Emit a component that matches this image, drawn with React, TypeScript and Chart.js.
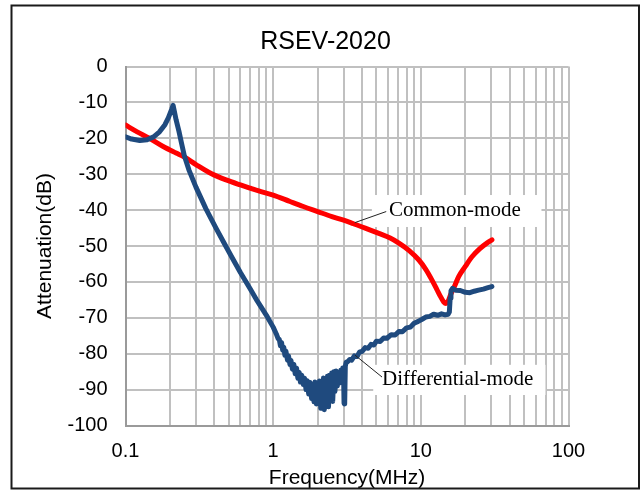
import React, { useEffect, useRef } from 'react';
import { Chart, registerables } from 'chart.js';

Chart.register(...registerables);

const chartTitle = 'RSEV-2020';
const xTitle = 'Frequency(MHz)';
const yTitle = 'Attenuation(dB)';

// Common-mode (red)
const cmFreq = [
  0.1, 0.12, 0.145, 0.18, 0.22, 0.25, 0.3, 0.38, 0.48, 0.6, 0.7, 0.85, 1.0, 1.3, 1.6, 2.0, 2.5, 3.0, 3.5,
  4.2, 5.2, 6.2, 7.1, 8.3, 9.7, 10.8, 11.9, 12.8, 13.6, 14.3, 14.8, 15.3, 15.9, 17, 18, 20, 22.2, 25, 28, 30.3,
];
const cmAtten = [
  -16.3, -18.2, -20, -22.3, -24.1, -25.2, -27.3, -29.8, -31.6, -33.0, -33.9, -35, -35.8, -37.6, -39.0, -40.4, -41.8, -42.8, -43.8,
  -45.0, -46.5, -47.8, -49.2, -51.2, -53.9, -56.5, -59.5, -62.0, -64.1, -65.6, -66.0, -65.4, -63.6, -61, -58.6, -55.7, -53, -50.8, -49.2, -48.3,
];

// Differential-mode (blue)
const dmFreq = [
  0.1, 0.11, 0.125, 0.14, 0.155, 0.17, 0.185, 0.195, 0.205, 0.21, 0.215, 0.22, 0.23, 0.24, 0.25, 0.27, 0.3, 0.35, 0.41, 0.47, 0.53, 0.6, 0.7, 0.78, 0.9, 1.0,
  1.05, 1.08, 1.10, 1.12, 1.14, 1.16, 1.18, 1.20, 1.22, 1.25, 1.27, 1.30, 1.32, 1.35, 1.38, 1.41, 1.44, 1.47, 1.50, 1.53, 1.56, 1.60, 1.63, 1.67, 1.70,
  1.74, 1.78, 1.82, 1.85, 1.89, 1.92, 1.96, 2.00, 2.03, 2.06, 2.10, 2.13, 2.16, 2.19, 2.22, 2.25, 2.29, 2.33, 2.37, 2.41, 2.45, 2.49, 2.53, 2.58,
  2.62, 2.67, 2.72, 2.77, 2.82, 2.87, 2.92, 2.96, 3.00, 3.02, 3.05, 3.08, 3.12, 3.2, 3.3, 3.4, 3.55, 3.7, 3.85, 4.0, 4.2, 4.4, 4.6, 4.8, 5.0, 5.3,
  5.6, 5.9, 6.3, 6.7, 7.1, 7.5, 8.0, 8.5, 9.0, 9.6, 10.2, 10.8, 11.5, 12.2, 13.0, 13.8, 14.6, 15.3, 15.6, 15.8, 16.0, 16.4, 17.2, 18.5, 20, 21.5,
  23, 24.6, 26.5, 28.5, 30.3,
];
const dmAtten = [
  -19.6, -20.2, -20.6, -20.4, -19.6, -18.2, -16.2, -14.3, -12.0, -10.8, -12.8, -14.8, -18.0, -21.5, -24.8, -29.0, -33.6, -39.6, -45.0, -49.5, -53.4, -57.4, -62.0, -65.3, -69.3, -72.6,
  -74.5, -75.8, -76.0, -77.8, -76.9, -79.0, -78.2, -80.4, -79.3, -81.8, -80.6, -83.0, -81.9, -84.3, -83.0, -85.6, -84.0, -86.8, -85.2, -87.9, -86.0, -88.6, -86.8, -90.0, -87.5,
  -91.2, -88.0, -92.5, -88.6, -93.4, -87.9, -94.0, -88.4, -93.0, -87.6, -95.2, -88.8, -94.0, -86.8, -95.6, -87.5, -93.6, -86.3, -94.8, -86.0, -92.5, -85.4, -93.3, -85.0,
  -90.5, -84.8, -89.0, -85.4, -88.2, -84.6, -87.0, -84.0, -86.5, -93.8, -94.0, -83.5, -82.4, -82.2, -81.6, -81.8, -80.6, -80.8, -79.5, -79.4, -78.3, -78.5, -77.4, -77.6, -76.5, -76.6,
  -75.6, -75.7, -74.7, -74.8, -73.8, -73.9, -72.8, -72.6, -71.5, -71.0, -70.4, -69.8, -69.6, -69.0, -69.3, -68.9, -69.2, -69.0, -68.4, -64.5, -62.5, -61.8, -62.3, -62.4, -62.9, -63.0,
  -62.6, -62.3, -62.0, -61.6, -61.3,
];

const xTickValues = [
  0.1, 0.2, 0.3, 0.4, 0.5, 0.6, 0.7, 0.8, 0.9,
  1, 2, 3, 4, 5, 6, 7, 8, 9,
  10, 20, 30, 40, 50, 60, 70, 80, 90,
  100,
];
const xMajorValues = [0.1, 1, 10, 100];
const xMajorLabels = ['0.1', '1', '10', '100'];

const calloutText = ['Common-mode', 'Differential-mode'];
// callout geometry in data units: [text x, text y], box [x1, x2, y1, y2], leader [x1, y1, x2, y2]
const calloutTextPos = [[6.08, -40.0], [5.46, -87.3]];
const calloutBox = [[4.66, 65.6, -35.8, -44.7], [4.76, 69.8, -83.1, -91.5]];
const calloutLeader = [[3.57, -43.5, 5.83, -40.4], [3.58, -80.4, 5.46, -86.5]];

const SANS = '"Liberation Sans", Arial, sans-serif';
const SERIF = '"Liberation Serif", "Times New Roman", serif';

export default function App() {
  const ref = useRef<HTMLCanvasElement>(null);

  useEffect(() => {
    const canvas = ref.current;
    if (!canvas) return;

    const framePlugin = {
      id: 'frame',
      afterDatasetsDraw(chart: any) {
        const ctx = chart.ctx;
        const xs = chart.scales.x;
        const ys = chart.scales.y;
        ctx.save();
        calloutText.forEach((text, i) => {
          const b = calloutBox[i];
          const l = xs.getPixelForValue(b[0]);
          const r = xs.getPixelForValue(b[1]);
          const t = ys.getPixelForValue(b[2]);
          const bt = ys.getPixelForValue(b[3]);
          ctx.fillStyle = '#ffffff';
          ctx.fillRect(l, t, r - l, bt - t);
          const ld = calloutLeader[i];
          ctx.strokeStyle = '#222';
          ctx.lineWidth = 1;
          ctx.beginPath();
          ctx.moveTo(xs.getPixelForValue(ld[0]), ys.getPixelForValue(ld[1]));
          ctx.lineTo(xs.getPixelForValue(ld[2]), ys.getPixelForValue(ld[3]));
          ctx.stroke();
          ctx.fillStyle = '#000';
          ctx.font = `21px ${SERIF}`;
          ctx.textAlign = 'left';
          ctx.textBaseline = 'middle';
          ctx.fillText(text, xs.getPixelForValue(calloutTextPos[i][0]), ys.getPixelForValue(calloutTextPos[i][1]));
        });
        ctx.restore();
      },
      afterDraw(chart: any) {
        const ctx = chart.ctx;
        ctx.save();
        ctx.strokeStyle = '#1a1a1a';
        ctx.lineWidth = 2;
        ctx.strokeRect(11.5, 5.5, 627.5, 483);
        ctx.fillStyle = '#000';
        ctx.font = `25px ${SANS}`;
        ctx.textAlign = 'center';
        ctx.textBaseline = 'middle';
        ctx.fillText(chartTitle, 325.5, 42);
        ctx.restore();
      },
    };

    const chart = new Chart(canvas, {
      type: 'line',
      data: {
        datasets: [
          {
            label: 'Differential-mode',
            data: dmFreq.map((f, i) => ({ x: f, y: dmAtten[i] })),
            borderColor: '#1f4a7e',
            borderWidth: 5,
            pointRadius: 0,
            tension: 0,
            borderJoinStyle: 'round',
            borderCapStyle: 'round',
            fill: false,
          },
          {
            label: 'Common-mode',
            data: cmFreq.map((f, i) => ({ x: f, y: cmAtten[i] })),
            borderColor: '#ff0000',
            borderWidth: 5,
            pointRadius: 0,
            cubicInterpolationMode: 'monotone',
            borderJoinStyle: 'round',
            borderCapStyle: 'round',
            fill: false,
          },
        ],
      },
      options: {
        responsive: false,
        animation: false,
        devicePixelRatio: 1,
        layout: { padding: { top: 66.5, right: 73.5, left: 0, bottom: 0 } },
        plugins: {
          legend: { display: false },
          tooltip: { enabled: false },
          title: { display: false },
        },
        scales: {
          x: {
            type: 'logarithmic',
            min: 0.1,
            max: 100,
            afterBuildTicks: (s: any) => {
              s.ticks = xTickValues.map((v) => ({ value: v, major: xMajorValues.includes(v) }));
            },
            afterFit: (s: any) => {
              s.height = 65.5;
            },
            ticks: {
              autoSkip: false,
              maxRotation: 0,
              minRotation: 0,
              padding: 14,
              color: '#000',
              font: { family: SANS, size: 20 },
              callback: (v: any) => {
                const idx = xMajorValues.findIndex((m) => Math.abs(m - Number(v)) < 1e-9);
                return idx >= 0 ? xMajorLabels[idx] : '';
              },
            },
            grid: { color: '#c0c0c0', lineWidth: 2, drawTicks: false },
            border: { color: '#9a9a9a', width: 2 },
            title: {
              display: true,
              text: xTitle,
              color: '#000',
              font: { family: SANS, size: 21 },
              padding: { top: 0, bottom: 0 },
            },
          },
          y: {
            min: -100,
            max: 0,
            afterFit: (s: any) => {
              s.width = 125.5;
            },
            ticks: {
              stepSize: 10,
              padding: 18,
              color: '#000',
              font: { family: SANS, size: 20 },
              callback: (v: any) => String(v),
            },
            grid: { color: '#c0c0c0', lineWidth: 2, drawTicks: false },
            border: { color: '#9a9a9a', width: 2 },
            title: {
              display: true,
              text: yTitle,
              color: '#000',
              font: { family: SANS, size: 21 },
              padding: { top: 33, bottom: 0 },
            },
          },
        },
      },
      plugins: [framePlugin],
    } as any);

    return () => chart.destroy();
  }, []);

  return (
    <div style={{ position: 'absolute', left: 0, top: 0, width: 642, height: 491, background: '#fff' }}>
      <canvas ref={ref} width={642} height={491} style={{ display: 'block', width: 642, height: 491 }} />
    </div>
  );
}
